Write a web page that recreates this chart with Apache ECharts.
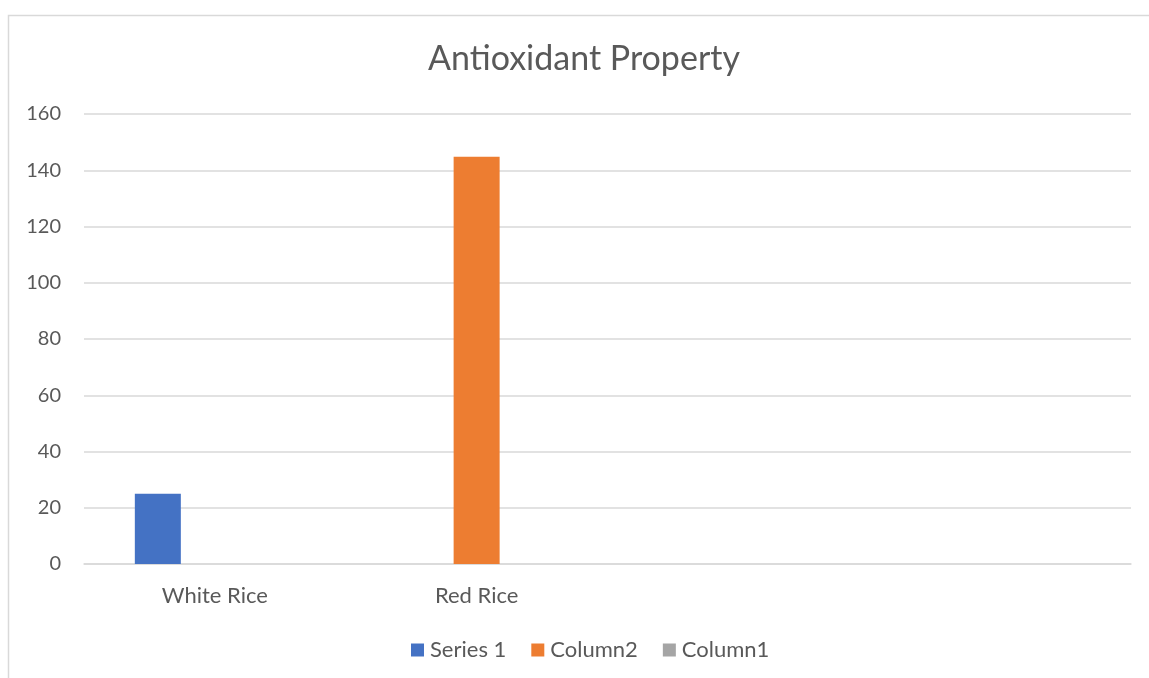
<!DOCTYPE html>
<html>
<head>
<meta charset="utf-8">
<script src="https://cdn.jsdelivr.net/npm/echarts@6/dist/echarts.min.js"></script>
<style>
html,body{margin:0;padding:0;background:#fff;}
#chart{width:1149px;height:678px;}
</style>
</head>
<body>
<div id="chart"></div>
<script>
const categories = ['White Rice', 'Red Rice', '', ''];
const series1 = [25, null, null, null];
const column2 = [null, 144.8, null, null];
const column1 = [null, null, null, null];
const yTicks = { min: 0, max: 160, interval: 20 };

const FONT = 'Lato';
const chart = echarts.init(document.getElementById('chart'));
chart.setOption({
  animation: false,
  backgroundColor: '#ffffff',
  graphic: [{
    type: 'rect',
    shape: { x: 8.5, y: 15.5, width: 1200, height: 700 },
    style: { fill: 'none', stroke: '#d9d9d9', lineWidth: 1.5 },
    silent: true
  }],
  title: {
    text: 'Antioxidant Property',
    left: 579,
    textAlign: 'center',
    top: 37,
    textStyle: { fontFamily: FONT, fontSize: 34, fontWeight: 'normal', color: '#595959' }
  },
  legend: {
    left: 406,
    top: 634,
    itemWidth: 13,
    itemHeight: 13,
    itemGap: 25,
    icon: 'rect',
    textStyle: { fontFamily: FONT, fontSize: 22, color: '#595959', padding: [0, 0, 0, 1] },
    data: ['Series 1', 'Column2', 'Column1']
  },
  grid: { left: 84, right: 18, top: 114, bottom: 114, containLabel: false },
  xAxis: {
    type: 'category',
    data: categories,
    axisLine: { show: true, lineStyle: { color: '#d9d9d9', width: 1.5 } },
    axisTick: { show: false },
    axisLabel: { fontFamily: FONT, fontSize: 22, color: '#595959', margin: 21 }
  },
  yAxis: {
    type: 'value',
    min: yTicks.min,
    max: yTicks.max,
    interval: yTicks.interval,
    axisLine: { show: false },
    axisTick: { show: false },
    axisLabel: { fontFamily: FONT, fontSize: 20, color: '#595959', margin: 23 },
    splitLine: { lineStyle: { color: '#d9d9d9', width: 1.5 } }
  },
  series: [
    { name: 'Series 1', type: 'bar', data: series1, barWidth: 46, barGap: '24%', itemStyle: { color: '#4472C4' } },
    { name: 'Column2', type: 'bar', data: column2, barWidth: 46, barGap: '24%', itemStyle: { color: '#ED7D31' } },
    { name: 'Column1', type: 'bar', data: column1, barWidth: 46, barGap: '24%', itemStyle: { color: '#A5A5A5' } }
  ]
});
</script>
</body>
</html>
